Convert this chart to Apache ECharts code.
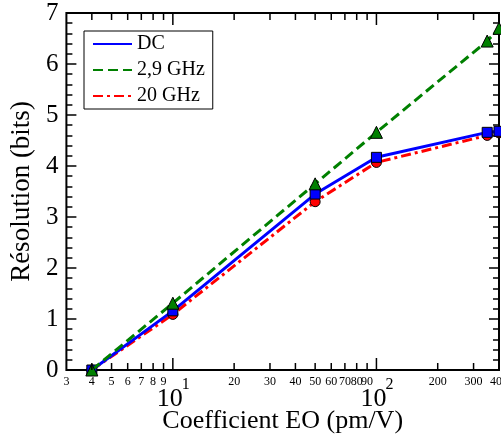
<!DOCTYPE html>
<html><head><meta charset="utf-8">
<script src="https://cdn.jsdelivr.net/npm/echarts@6/dist/echarts.min.js"></script>
<style>html,body{margin:0;padding:0;background:#fff}#c{width:501px;height:439px}</style>
</head><body><div id="c"></div>
<script>
const xValues = [4, 10, 50, 100, 350, 400];
const dcValues = [0, 1.16, 3.45, 4.17, 4.66, 4.68];
const ghz29Values = [0, 1.31, 3.65, 4.66, 6.45, 6.7];
const ghz20Values = [0, 1.09, 3.3, 4.07, 4.6, 4.65];
const seriesNames = ['DC', '2,9 GHz', '20 GHz'];
const xTickValues = [3,4,5,6,7,8,9,10,20,30,40,50,60,70,80,90,100,200,300,400];
const xTickLabels = ['3','4','5','6','7','8','9','10^1','20','30','40','50','60','70','80','90','10^2','200','300','400'];
const yMin = 0, yMax = 7, yInterval = 1;
const xMin = 3, xMax = 400;

const FONT = '"Liberation Serif", "Times New Roman", serif';

function renderTicks(params, api) {
  const v = api.value(0);
  const lab = xTickLabels[params.dataIndex];
  const major = lab.indexOf('^') >= 0;
  const b = api.coord([v, yMin]);
  const t = api.coord([v, yMax]);
  const len = major ? 12 : 7;
  const ls = {stroke: '#000', lineWidth: 1.5};
  const children = [];
  if (v > xMin && v < xMax) {
    children.push({type: 'line', shape: {x1: b[0], y1: b[1], x2: b[0], y2: b[1] - len}, style: ls});
    children.push({type: 'line', shape: {x1: t[0], y1: t[1], x2: t[0], y2: t[1] + len}, style: ls});
  }
  if (major) {
    const parts = lab.split('^');
    children.push({type: 'text', x: b[0] - 3, y: b[1] + 29, style: {text: parts[0], font: '26px ' + FONT, fill: '#000', align: 'center', verticalAlign: 'middle'}});
    children.push({type: 'text', x: b[0] + 13, y: b[1] + 15, style: {text: parts[1], font: '16px ' + FONT, fill: '#000', align: 'center', verticalAlign: 'middle'}});
  } else {
    children.push({type: 'text', x: b[0], y: b[1] + 12, style: {text: lab, font: '12px ' + FONT, fill: '#000', align: 'center', verticalAlign: 'middle'}});
  }
  return {type: 'group', children: children};
}

const yAxisBase = {
  type: 'value', min: yMin, max: yMax, interval: yInterval,
  axisLine: {show: false},
  axisTick: {show: true, inside: true, length: 10, lineStyle: {color: '#000', width: 1.5}},
  minorTick: {show: true, splitNumber: 5, length: 6, lineStyle: {color: '#000', width: 1.5}},
  splitLine: {show: false}
};

const chart = echarts.init(document.getElementById('c'), null, {renderer: 'canvas'});
chart.setOption({
  animation: false,
  backgroundColor: '#fff',
  grid: {left: 61, right: 2, top: 13, bottom: 67, show: true, borderColor: '#000', borderWidth: 2, backgroundColor: 'transparent'},
  legend: {
    data: seriesNames, orient: 'vertical', left: 84, top: 31,
    padding: [3, 8, 3, 8], borderColor: '#000', borderWidth: 1, backgroundColor: '#fff',
    itemWidth: 39, itemHeight: 14, itemGap: 6, selectedMode: false,
    itemStyle: {opacity: 0},
    textStyle: {fontFamily: FONT, fontSize: 20, color: '#000'}
  },
  xAxis: {
    type: 'log', logBase: 10, min: xMin, max: xMax,
    axisLine: {show: false}, axisTick: {show: false}, axisLabel: {show: false},
    splitLine: {show: false}, minorTick: {show: false}, minorSplitLine: {show: false},
    name: 'Coefficient EO (pm/V)', nameLocation: 'middle', nameGap: 38,
    nameTextStyle: {fontFamily: FONT, fontSize: 26, color: '#000'}
  },
  yAxis: [
    Object.assign({}, yAxisBase, {
      position: 'left',
      axisLabel: {fontFamily: FONT, fontSize: 25, color: '#000', margin: 8},
      name: 'Résolution (bits)', nameLocation: 'middle', nameGap: 14,
      nameTextStyle: {fontFamily: FONT, fontSize: 27, color: '#000'}
    }),
    Object.assign({}, yAxisBase, {position: 'right', axisLabel: {show: false}})
  ],
  series: [
    {
      name: '20 GHz', type: 'line', z: 2,
      data: xValues.map((x, i) => [x, ghz20Values[i]]),
      symbol: 'circle', symbolSize: 10,
      lineStyle: {color: '#ff0000', width: 3, type: [10, 4, 3, 4]},
      itemStyle: {color: '#ff0000', borderColor: '#000', borderWidth: 1}
    },
    {
      name: 'DC', type: 'line', z: 3,
      data: xValues.map((x, i) => [x, dcValues[i]]),
      symbol: 'rect', symbolSize: 10,
      lineStyle: {color: '#0000ff', width: 3, type: 'solid'},
      itemStyle: {color: '#0000ff', borderColor: '#000', borderWidth: 1}
    },
    {
      name: '2,9 GHz', type: 'line', z: 4,
      data: xValues.map((x, i) => [x, ghz29Values[i]]),
      symbol: 'triangle', symbolSize: 12,
      lineStyle: {color: '#008000', width: 3, type: [10, 5]},
      itemStyle: {color: '#008000', borderColor: '#000', borderWidth: 1}
    },
    {
      type: 'custom', z: 10, silent: true, clip: false,
      data: xTickValues.map(v => [v, yMin]),
      renderItem: renderTicks
    }
  ]
});
</script>
</body></html>
